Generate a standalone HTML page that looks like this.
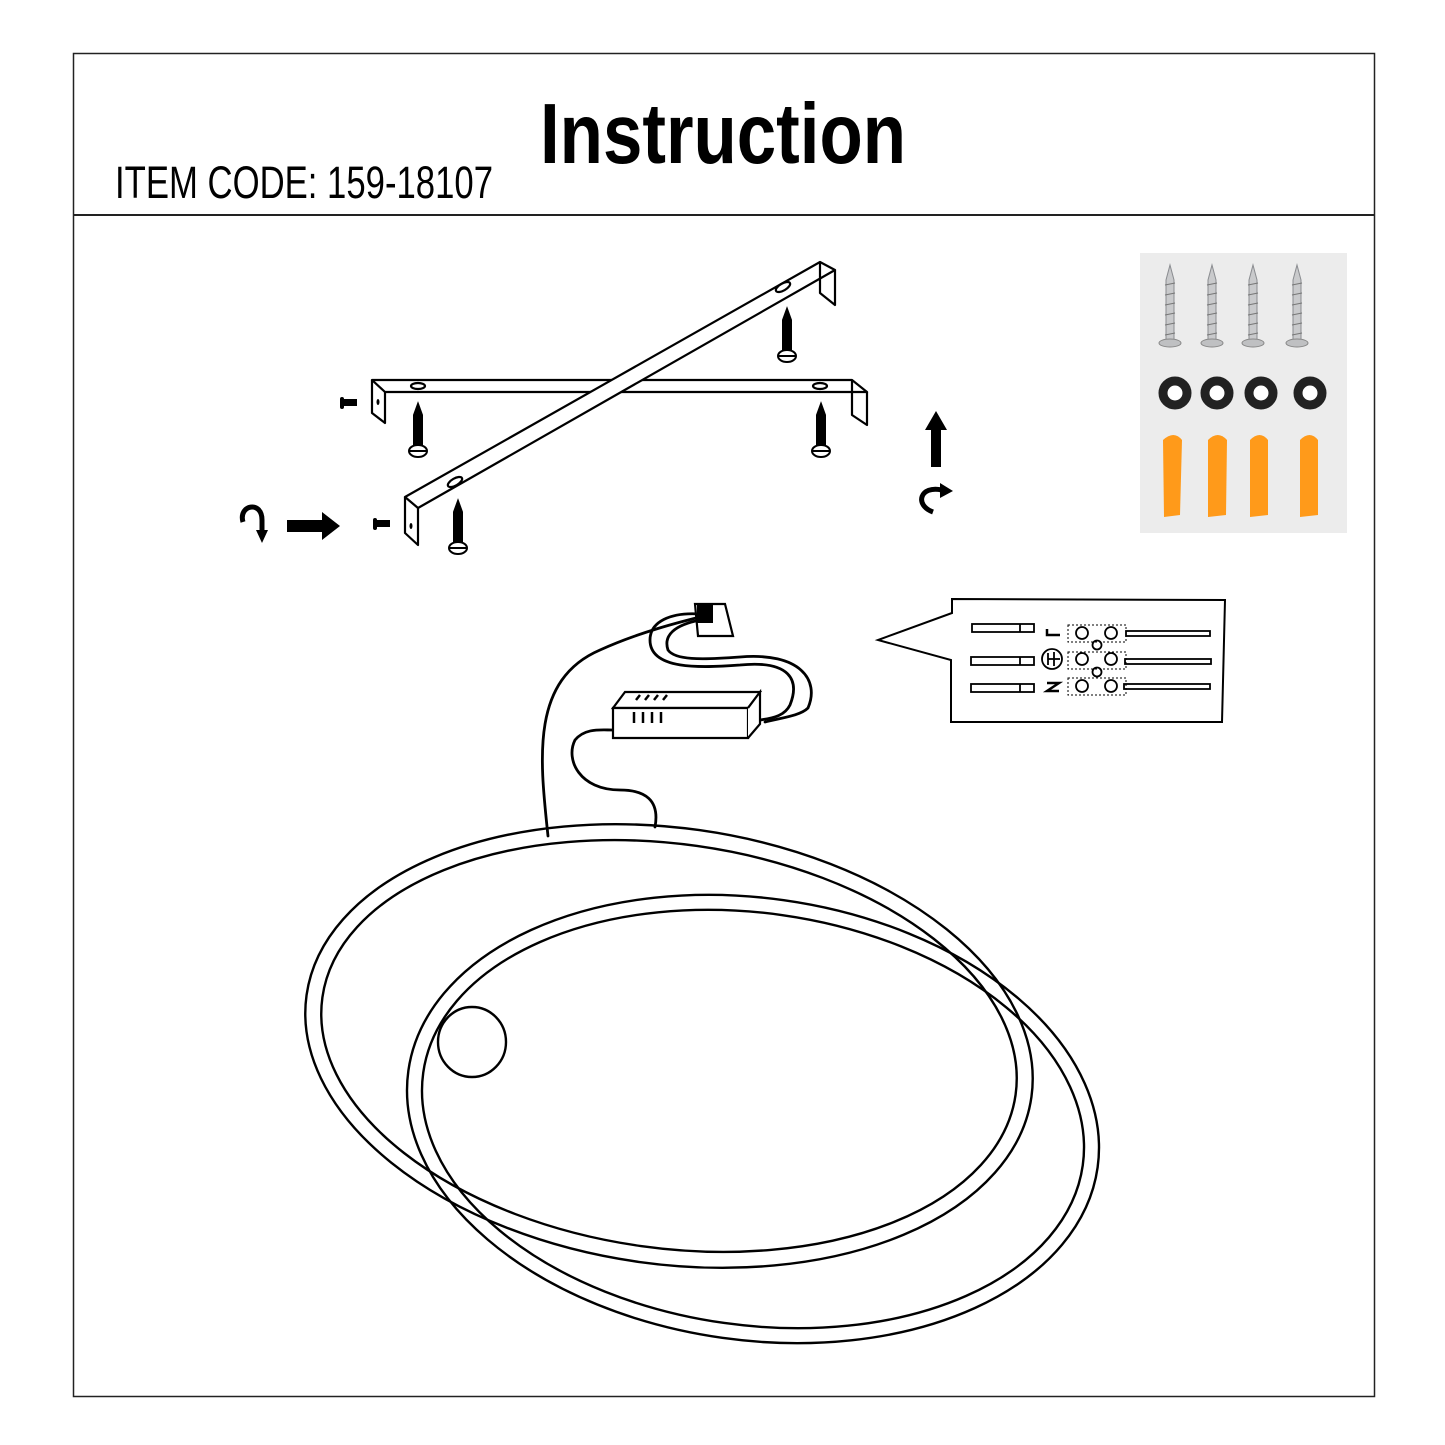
<!DOCTYPE html>
<html><head><meta charset="utf-8"><style>html,body{margin:0;padding:0;background:#fff}svg{display:block}</style></head>
<body>
<svg width="1445" height="1445" viewBox="0 0 1445 1445" xmlns="http://www.w3.org/2000/svg">
<rect x="0" y="0" width="1445" height="1445" fill="#fff"/>
<rect x="73.5" y="53.5" width="1301" height="1343" fill="none" stroke="#222" stroke-width="1.5"/>
<line x1="74" y1="215" x2="1374" y2="215" stroke="#222" stroke-width="2"/>
<text x="540" y="163" font-family="Liberation Sans, sans-serif" font-weight="bold" font-size="85" textLength="366" lengthAdjust="spacingAndGlyphs">Instruction</text>
<text x="115" y="198" font-family="Liberation Sans, sans-serif" font-size="45" textLength="378" lengthAdjust="spacingAndGlyphs">ITEM CODE: 159-18107</text>

<g fill="none" stroke="#000" stroke-width="2.2" stroke-linejoin="round">
<!-- horizontal bracket -->
<path d="M372 380 L852 380 L867 392 L385 392 L372 380 Z"/>
<path d="M372 380 L372 413 L385 423 L385 392"/>
<path d="M852 380 L852 392 M867 392 L867 425 L852 415 L852 392"/>
<ellipse cx="418" cy="386" rx="7" ry="3"/>
<ellipse cx="820" cy="386" rx="7" ry="3"/>
<!-- diagonal bracket -->
<path d="M405 497 L820 262 L835 270 L418 508 Z" fill="#fff"/>
<path d="M405 497 L405 533 L418 545 L418 508"/>
<path d="M820 262 L820 293 L835 305 L835 270"/>
<ellipse cx="783" cy="287" rx="8" ry="3.5" transform="rotate(-30 783 287)"/>
<ellipse cx="455" cy="482" rx="8" ry="3.5" transform="rotate(-30 455 482)"/>
</g>
<ellipse cx="378" cy="402" rx="1.5" ry="3" fill="#000"/>
<ellipse cx="411" cy="526" rx="1.5" ry="3" fill="#000"/>
<!-- screws -->
<g id="s" stroke="#000" stroke-width="2" fill="#fff">
<path d="M418 404 L422 415 L422 445 L414 445 L414 415 Z" fill="#000"/>
<ellipse cx="418" cy="451" rx="9" ry="6"/>
<line x1="409" y1="451" x2="427" y2="451"/>
</g>
<use href="#s" x="403"/>
<use href="#s" x="369" y="-95"/>
<use href="#s" x="40" y="97"/>
<!-- bolts -->
<g fill="#000">
<rect x="340" y="397" width="4" height="12" rx="2"/><rect x="343" y="399" width="14" height="7"/>
<rect x="373" y="518" width="4" height="12" rx="2"/><rect x="376" y="520" width="14" height="7"/>
<!-- arrows -->
<path d="M287 520 L322 520 L322 512 L340 526 L322 540 L322 532 L287 532 Z"/>
<path d="M931 467 L931 430 L925 430 L936 411 L947 430 L941 430 L941 467 Z"/>
</g>
<path d="M243 522 C238 505 262 500 262 520 L262 532" fill="none" stroke="#000" stroke-width="5"/>
<path d="M256 530 L268 530 L262 543 Z" fill="#000"/>
<path d="M933 512 C914 505 920 485 942 490" fill="none" stroke="#000" stroke-width="5"/>
<path d="M940 483 L953 491 L940 498 Z" fill="#000"/>

<!-- hardware photo -->
<rect x="1140" y="253" width="207" height="280" fill="#ececec"/>
<g id="scr">
<path d="M1170 265 L1174 280 L1174 340 L1166 340 L1166 280 Z" fill="#c9cacc" stroke="#8a8c90" stroke-width="1"/>
<g stroke="#777" stroke-width="1"><line x1="1165" y1="285" x2="1175" y2="283"/><line x1="1165" y1="295" x2="1175" y2="293"/><line x1="1165" y1="305" x2="1175" y2="303"/><line x1="1165" y1="315" x2="1175" y2="313"/><line x1="1165" y1="325" x2="1175" y2="323"/><line x1="1165" y1="335" x2="1175" y2="333"/></g>
<ellipse cx="1170" cy="343" rx="11" ry="4" fill="#bfc0c2" stroke="#888" stroke-width="1"/>
</g>
<use href="#scr" x="42"/><use href="#scr" x="83"/><use href="#scr" x="127"/>
<g fill="#fff" stroke="#222">
<circle cx="1175" cy="393" r="12" stroke-width="9"/>
<circle cx="1217" cy="393" r="12" stroke-width="9"/>
<circle cx="1261" cy="393" r="12" stroke-width="9"/>
<circle cx="1310" cy="393" r="12" stroke-width="9"/>
</g>
<g fill="#ff9a1a">
<path d="M1163 440 Q1174 430 1182 440 L1180 515 L1164 517 Z"/>
<path d="M1208 440 Q1218 430 1227 440 L1226 515 L1208 517 Z"/>
<path d="M1250 440 Q1260 430 1268 440 L1268 515 L1250 517 Z"/>
<path d="M1300 440 Q1310 430 1318 440 L1318 515 L1300 517 Z"/>
</g>

<!-- wiring box -->
<path d="M952 599 L1225 600 L1222 722 L951 722 L951 660 L878 640 L952 613 Z" fill="#fff" stroke="#000" stroke-width="2"/>
<g fill="none" stroke="#000" stroke-width="1.8">
<rect x="972" y="624" width="62" height="8"/><line x1="1020" y1="624" x2="1020" y2="632"/>
<rect x="971" y="657" width="63" height="8"/><line x1="1020" y1="657" x2="1020" y2="665"/>
<rect x="971" y="684" width="63" height="8"/><line x1="1020" y1="684" x2="1020" y2="692"/>
<rect x="1126" y="631" width="84" height="5"/>
<rect x="1125" y="659" width="86" height="5"/>
<rect x="1124" y="684" width="86" height="5"/>
<rect x="1068" y="625" width="58" height="17" stroke-dasharray="2 2" stroke-width="1"/>
<rect x="1068" y="652" width="58" height="17" stroke-dasharray="2 2" stroke-width="1"/>
<rect x="1068" y="678" width="58" height="17" stroke-dasharray="2 2" stroke-width="1"/>
<circle cx="1082" cy="633" r="6"/><circle cx="1111" cy="633" r="6"/>
<circle cx="1082" cy="659" r="6"/><circle cx="1111" cy="659" r="6"/>
<circle cx="1082" cy="686" r="6"/><circle cx="1111" cy="686" r="6"/>
<circle cx="1097" cy="645" r="4.5"/><circle cx="1097" cy="672" r="4.5"/>
<circle cx="1052" cy="659" r="10"/>
<line x1="1048" y1="659" x2="1060" y2="659"/><line x1="1054" y1="652" x2="1054" y2="666"/><line x1="1048" y1="653" x2="1048" y2="665"/>
<path d="M1047 629 L1047 635 L1060 635" stroke-width="2.5"/>
<path d="M1047 683 L1059 683 L1047 691 L1059 691" stroke-width="2.5"/>
</g>

<!-- cables and driver -->
<g fill="none" stroke="#000" stroke-width="2.8" stroke-linecap="round">
<path d="M548 836 C540 760 530 680 600 650 C640 632 680 622 700 617"/>
<path d="M655 827 C660 800 645 790 620 790 C580 790 565 760 575 740 C585 728 600 730 612 730"/>
<path d="M700 614 C670 612 650 622 650 640 C650 670 700 668 740 665 C790 660 800 680 790 705 C785 715 775 718 760 720"/>
<path d="M700 620 C675 625 663 635 668 650 C675 660 700 660 740 657 C800 652 820 680 808 708 C800 716 780 718 765 722"/>
</g>
<g fill="#fff" stroke="#000" stroke-width="2.2">
<path d="M613 708 L625 692 L760 692 L748 708 Z"/>
<path d="M613 708 L748 708 L748 738 L613 738 Z"/>
<path d="M748 708 L760 692 L760 724 L748 738"/>
<path d="M695 604 L725 604 L733 636 L698 636 Z"/>
</g>
<rect x="697" y="603" width="16" height="20" fill="#000"/>
<g stroke="#000" stroke-width="2.5"><line x1="634" y1="712" x2="634" y2="723"/><line x1="643" y1="712" x2="643" y2="723"/><line x1="652" y1="712" x2="652" y2="723"/><line x1="661" y1="712" x2="661" y2="723"/>
<line x1="636" y1="700" x2="640" y2="695"/><line x1="645" y1="700" x2="649" y2="695"/><line x1="654" y1="700" x2="658" y2="695"/><line x1="663" y1="700" x2="667" y2="695"/></g>

<!-- rings -->
<g fill="none" stroke="#000" stroke-width="2.4">
<ellipse cx="669" cy="1046" rx="366" ry="218" transform="rotate(8 669 1046)"/>
<ellipse cx="669" cy="1046" rx="350" ry="202" transform="rotate(8 669 1046)"/>
<ellipse cx="753" cy="1119" rx="348" ry="221" transform="rotate(8 753 1119)"/>
<ellipse cx="753" cy="1119" rx="333" ry="206" transform="rotate(8 753 1119)"/>
</g>
<ellipse cx="472" cy="1042" rx="34" ry="35" fill="#fff" stroke="#000" stroke-width="2.4"/>
</svg>
</body></html>
